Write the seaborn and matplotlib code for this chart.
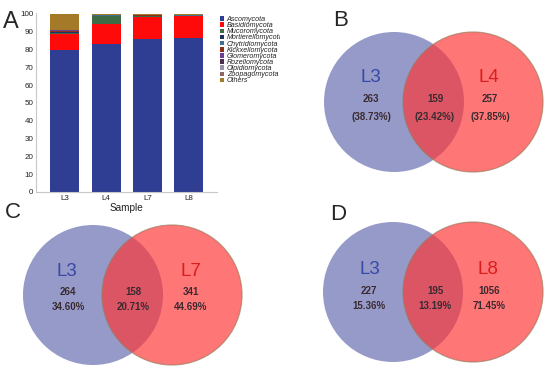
import numpy as np
import pandas as pd
import matplotlib
matplotlib.use('Agg')
import matplotlib.pyplot as plt
from matplotlib.patches import Circle
import seaborn as sns

# panel A: relative abundance (%) of fungal phyla per sample
samples = ['L3', 'L4', 'L7', 'L8']
taxa = ['Ascomycota', 'Basidiomycota', 'Mucoromycota', 'Mortierellomycota',
        'Chytridiomycota', 'Kickxellomycota', 'Glomeromycota', 'Rozellomycota',
        'Olpidiomycota', 'Zoopagomycota', 'Others']
ascomycota = [79.5, 83.0, 86.0, 86.5]
basidiomycota = [9.0, 11.5, 12.5, 12.2]
mucoromycota = [0.8, 4.3, 0.3, 0.2]
mortierellomycota = [0.3, 0.2, 0.1, 0.1]
chytridiomycota = [0.2, 0.1, 0.1, 0.1]
kickxellomycota = [0.5, 0.2, 0.4, 0.3]
glomeromycota = [0.4, 0.1, 0.1, 0.1]
rozellomycota = [0.1, 0.05, 0.05, 0.05]
olpidiomycota = [0.1, 0.05, 0.05, 0.05]
zoopagomycota = [0.1, 0.05, 0.05, 0.05]
others = [9.0, 0.45, 0.35, 0.35]
abund = [ascomycota, basidiomycota, mucoromycota, mortierellomycota,
         chytridiomycota, kickxellomycota, glomeromycota, rozellomycota,
         olpidiomycota, zoopagomycota, others]
taxa_colors = ['#2F3D92', '#FF0A0A', '#3C6B45', '#1E3266', '#3F6F93',
               '#8E2F1C', '#6B3E98', '#4B2D4F', '#9C92AC', '#8A6668', '#A47A28']

# panels B-D: shared / unique OTUs
venn_pairs = [('L3', 'L4'), ('L3', 'L7'), ('L3', 'L8')]
venn_counts = [(263, 159, 257), (264, 158, 341), (227, 195, 1056)]
venn_pcts = [('(38.73%)', '(23.42%)', '(37.85%)'),
             ('34.60%', '20.71%', '44.69%'),
             ('15.36%', '13.19%', '71.45%')]

W, H = 550, 371
sns.set_style('white')
plt.rcParams['font.family'] = ['Liberation Sans', 'DejaVu Sans']

fig = plt.figure(figsize=(W / 100, H / 100), dpi=100)


def px_axes(x0, y0, x1, y1, **kw):
    return fig.add_axes([x0 / W, 1 - y1 / H, (x1 - x0) / W, (y1 - y0) / H], **kw)


# ---- A: stacked bars ----
ax = px_axes(36, 13, 217, 192)
cum = np.cumsum(np.array(abund), axis=0)
for i in range(len(taxa) - 1, -1, -1):
    df = pd.DataFrame({'sample': samples, 'value': cum[i]})
    sns.barplot(data=df, x='sample', y='value', color=taxa_colors[i],
                saturation=1, width=0.7, linewidth=0, ax=ax, label=taxa[i])
ax.set_xlim(-0.7, 3.68)
ax.set_ylim(0, 100.5)
ax.set_yticks(range(0, 101, 10))
ax.tick_params(axis='both', labelsize=5.8, length=0, pad=2, colors='#222222')
ax.set_xlabel('Sample', fontsize=7.2, labelpad=1, color='#222222')
ax.set_ylabel('')
for s in ['top', 'right']:
    ax.spines[s].set_visible(False)
for s in ['left', 'bottom']:
    ax.spines[s].set_color('#C8C8C8')
    ax.spines[s].set_linewidth(0.8)

h, l = ax.get_legend_handles_labels()
leg = ax.legend(h[::-1], l[::-1], loc='upper left',
                bbox_to_anchor=(220 / W, 1 - 16 / H), bbox_transform=fig.transFigure,
                frameon=False, fontsize=5.1, handlelength=0.6, handleheight=0.6,
                handletextpad=0.35, labelspacing=-0.12, borderpad=0, borderaxespad=0)
for t in leg.get_texts():
    t.set_fontstyle('italic')
    t.set_color('#222222')
fig.text(3 / W, 1 - 22 / H, 'A', fontsize=17, va='center', ha='left')

# ---- B-D: Venn diagrams ----
panels = [
    dict(box=(280, 0, 550, 186), letter='B', lx=53, ly=20, c1=(114, 102), c2=(193, 102),
         name_y=77, name_x=(91, 209), num_x=(91, 155, 210), num_y=99, pct_y=117, bg=True),
    dict(box=(0, 186, 275, 371), letter='C', lx=5, ly=27, c1=(93, 109), c2=(172, 109),
         name_y=85, name_x=(67, 191), num_x=(68, 133, 191), num_y=106, pct_y=121, bg=False),
    dict(box=(275, 186, 550, 371), letter='D', lx=55, ly=29, c1=(118, 106), c2=(198, 106),
         name_y=84, name_x=(95, 213), num_x=(94, 160, 214), num_y=105, pct_y=120, bg=False),
]
r = 70
for p, pair, cnt, pct in zip(panels, venn_pairs, venn_counts, venn_pcts):
    x0, y0, x1, y1 = p['box']
    vax = px_axes(x0, y0, x1, y1)
    vax.set_xlim(0, x1 - x0)
    vax.set_ylim(y1 - y0, 0)
    vax.axis('off')
    if p['bg']:
        # white panel covers the clipped legend text, like the source figure
        vax.axis('on')
        vax.set_facecolor('white')
        vax.set_xticks([])
        vax.set_yticks([])
        for s in vax.spines.values():
            s.set_visible(False)
    vax.add_patch(Circle(p['c1'], r, facecolor='#959AC9', edgecolor='none'))
    vax.add_patch(Circle(p['c2'], r, facecolor='#FF3535', alpha=0.68,
                         edgecolor='#9C7A5C', linewidth=0.9))
    vax.text(p['lx'], p['ly'], p['letter'], fontsize=16, ha='left', va='center')
    vax.text(p['name_x'][0], p['name_y'], pair[0], fontsize=13.5, color='#3A48A6',
             ha='center', va='center')
    vax.text(p['name_x'][1], p['name_y'], pair[1], fontsize=13.5, color='#D81E1E',
             ha='center', va='center')
    for xi, n, s in zip(p['num_x'], cnt, pct):
        vax.text(xi, p['num_y'], str(n), fontsize=7, fontweight='bold',
                 color='#3A2A30', ha='center', va='center')
        vax.text(xi, p['pct_y'], s, fontsize=7, fontweight='bold',
                 color='#3A2A30', ha='center', va='center')

fig.savefig('out.png', dpi=100)
